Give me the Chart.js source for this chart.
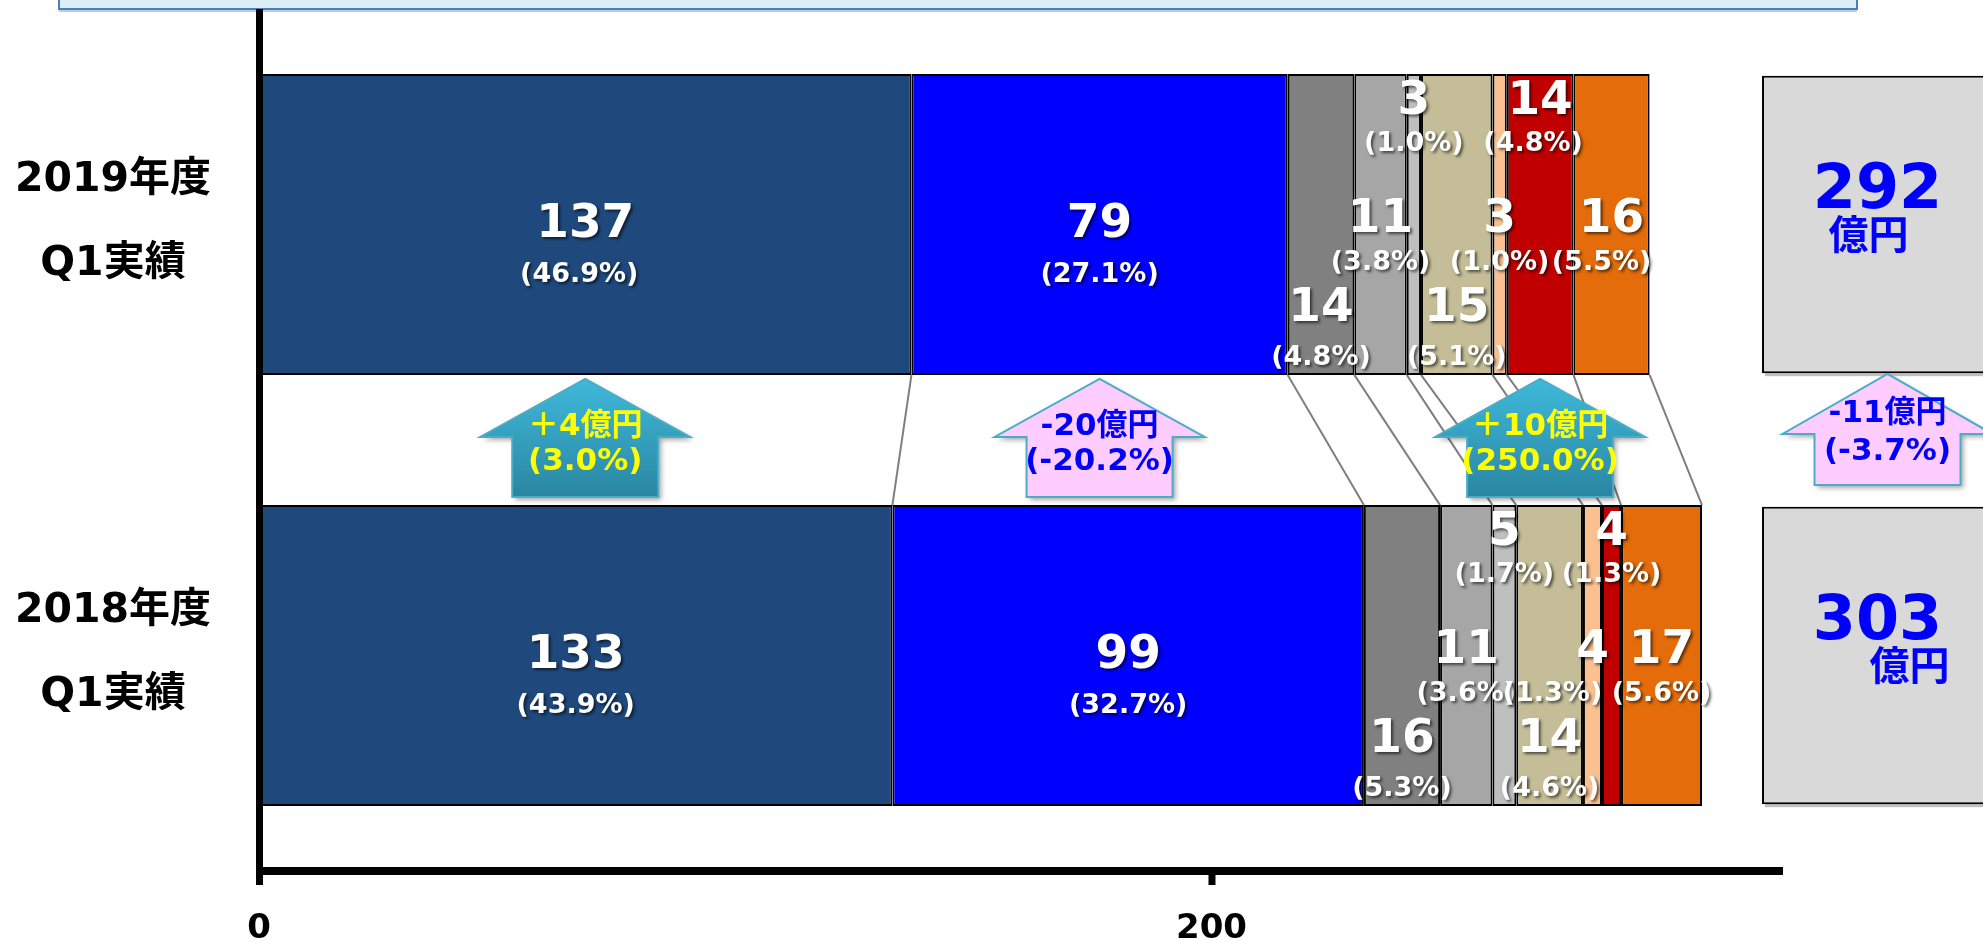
<!DOCTYPE html>
<html>
<head>
<meta charset="utf-8">
<script src="https://cdn.jsdelivr.net/npm/chart.js@4.4.1/dist/chart.umd.min.js"></script>
<style>
    html, body { margin: 0; padding: 0; background: #fff; }
    #wrap { width: 1983px; height: 940px; position: relative; }
</style>
</head>
<body>
<div id="wrap"><canvas id="chart"></canvas></div>
<script>
// data (億円)
const years = [['2019年度', 'Q1実績'], ['2018年度', 'Q1実績']]
const values2019 = [137, 79, 14, 11, 3, 15, 3, 14, 16]
const values2018 = [133, 99, 16, 11, 5, 14, 4, 4, 17]
const totals = [292, 303]
const changeLabels = ['＋4億円', '-20億円', '＋10億円', '-11億円']
const changePcts = ['(3.0%)', '(-20.2%)', '(250.0%)', '(-3.7%)']
const xTicks = [0, 200]

const segColors = ['#1f497d', '#0000ff', '#808080', '#a6a6a6', '#bfbfbf', '#c4bd97', '#fac090', '#c00000', '#e46c0a']
const FONT = '"DejaVu Sans", "Noto Sans CJK JP", sans-serif'
const X_MAX = 362
const AXIS_END = 320
const BOX_FROM = 315.6

// where each segment puts its value / percentage (px from bar centre)
const tiers = { big: [0, 50], top: [-123, -81], mid: [-5, 38], bot: [84, 133] }
const segTier = ['big', 'big', 'bot', 'mid', 'top', 'bot', 'mid', 'top', 'mid']
const pctShift = { '1-6': -40, '0-7': -7, '0-8': -10, '0-0': -6 }
// arrows: which segment they sit under (-1 = total box)
const arrowSeg = [0, 1, 7, -1]

const ranges = vals => {
    let s = 0
    return vals.map(v => [s, s += v])
}
const r19 = ranges(values2019)
const r18 = ranges(values2018)

const datasets = segColors.map((c, i) => ({
    data: [r19[i], r18[i]],
    backgroundColor: c,
    borderColor: '#000',
    borderWidth: 2,
    borderSkipped: false,
    grouped: false,
    barPercentage: 0.698,
    categoryPercentage: 1
}))
datasets.push({
    data: totals.map(() => [BOX_FROM, X_MAX + 5]),
    backgroundColor: '#d9d9d9',
    borderColor: '#000',
    borderWidth: 2,
    borderSkipped: 'right',
    grouped: false,
    barPercentage: 0.69,
    categoryPercentage: 1
})

const shadowText = (ctx, text, x, y, font, color, shadow) => {
    ctx.save()
    ctx.font = font
    ctx.fillStyle = color
    ctx.textAlign = 'center'
    ctx.textBaseline = 'middle'
    if (shadow) {
        ctx.shadowColor = 'rgba(0,0,0,0.6)'
        ctx.shadowOffsetX = 2
        ctx.shadowOffsetY = 2
        ctx.shadowBlur = 3
    }
    ctx.fillText(text, x, y)
    ctx.restore()
}

const drawArrow = (ctx, cx, tip, wing, bot, head, shaft, fill, stroke) => {
    ctx.save()
    ctx.beginPath()
    ctx.moveTo(cx, tip)
    ctx.lineTo(cx + head, wing)
    ctx.lineTo(cx + shaft, wing)
    ctx.lineTo(cx + shaft, bot)
    ctx.lineTo(cx - shaft, bot)
    ctx.lineTo(cx - shaft, wing)
    ctx.lineTo(cx - head, wing)
    ctx.closePath()
    ctx.shadowColor = 'rgba(0,0,0,0.35)'
    ctx.shadowOffsetX = 3
    ctx.shadowOffsetY = 3
    ctx.shadowBlur = 5
    ctx.fillStyle = fill
    ctx.fill()
    ctx.shadowColor = 'transparent'
    ctx.strokeStyle = stroke
    ctx.lineWidth = 2
    ctx.stroke()
    ctx.restore()
}

const decor = {
    id: 'decor',
    beforeDatasetsDraw(chart) {
        const ctx = chart.ctx
        const xs = chart.scales.x
        // cut-off title box at the very top
        ctx.save()
        ctx.fillStyle = '#daeef3'
        ctx.fillRect(59, -4, 1798, 13)
        ctx.strokeStyle = '#4a7ebb'
        ctx.lineWidth = 2
        ctx.strokeRect(59, -4, 1798, 13)
        ctx.strokeStyle = '#b9cde5'
        ctx.beginPath()
        ctx.moveTo(59, 11)
        ctx.lineTo(1857, 11)
        ctx.stroke()
        ctx.restore()

        // series lines between the two bars
        const m0 = chart.getDatasetMeta(0)
        const top = m0.data[0].y + m0.data[0].height / 2
        const bottom = m0.data[1].y - m0.data[1].height / 2
        ctx.save()
        ctx.strokeStyle = '#7f7f7f'
        ctx.lineWidth = 2
        r19.forEach((r, i) => {
            ctx.beginPath()
            ctx.moveTo(xs.getPixelForValue(r[1]), top)
            ctx.lineTo(xs.getPixelForValue(r18[i][1]), bottom)
            ctx.stroke()
        })
        ctx.restore()

        // soft shadow under the total boxes
        const tm = chart.getDatasetMeta(segColors.length)
        ctx.save()
        ctx.fillStyle = 'rgba(0,0,0,0.25)'
        tm.data.forEach(el => {
            ctx.fillRect(el.base + 3, el.y - el.height / 2 + 3, chart.width, el.height)
        })
        ctx.restore()
    },
    afterDatasetsDraw(chart) {
        const ctx = chart.ctx
        const xs = chart.scales.x
        const area = chart.chartArea
        const x0 = xs.getPixelForValue(0)

        // axes
        ctx.save()
        ctx.fillStyle = '#000'
        ctx.fillRect(x0 - 3, area.top, 7, area.bottom + 14 - area.top)
        ctx.fillRect(x0 - 3, area.bottom - 4, xs.getPixelForValue(AXIS_END) - x0 + 3, 8)
        xTicks.forEach(t => ctx.fillRect(xs.getPixelForValue(t) - 3, area.bottom, 7, 14))
        ctx.restore()

        // segment labels
        ;[values2019, values2018].forEach((vals, yi) => {
            const total = vals.reduce((a, b) => a + b, 0)
            vals.forEach((v, si) => {
                const el = chart.getDatasetMeta(si).data[yi]
                const cx = (el.x + el.base) / 2
                const [dv, dp] = tiers[segTier[si]]
                const pct = '(' + (v / total * 100).toFixed(1) + '%)'
                shadowText(ctx, String(v), cx, el.y + dv, 'bold 47px ' + FONT, '#fff', true)
                shadowText(ctx, pct, cx + (pctShift[yi + '-' + si] || 0), el.y + dp, 'bold 27px ' + FONT, '#fff', true)
            })
        })

        // totals
        const tm = chart.getDatasetMeta(segColors.length)
        const unitShift = [-4, 37]
        totals.forEach((t, yi) => {
            const el = tm.data[yi]
            const cx = (el.base + Math.min(el.x, area.right)) / 2
            shadowText(ctx, String(t), cx + 5, el.y - 33, 'bold 62px ' + FONT, '#0000ff', false)
            shadowText(ctx, '億円', cx + unitShift[yi], el.y + 14, 'bold 40px ' + FONT, '#0000ff', false)
        })

        // change arrows
        const m0 = chart.getDatasetMeta(0).data[0]
        const gap = m0.y + m0.height / 2
        arrowSeg.forEach((si, i) => {
            let cx, tip, wing, bot, l1, l2
            if (si >= 0) {
                const el = chart.getDatasetMeta(si).data[0]
                cx = (el.x + el.base) / 2
                tip = gap + 4; wing = gap + 62; bot = gap + 122
                l1 = gap + 52; l2 = gap + 87
            } else {
                const el = tm.data[0]
                cx = (el.base + Math.min(el.x, area.right)) / 2 + 15
                tip = gap - 1; wing = gap + 59; bot = gap + 110
                l1 = gap + 39; l2 = gap + 77
            }
            const up = changeLabels[i].startsWith('＋')
            let fill = '#ffccff'
            if (up) {
                fill = ctx.createLinearGradient(0, tip, 0, bot)
                fill.addColorStop(0, '#3fb9da')
                fill.addColorStop(1, '#2a86a2')
            }
            drawArrow(ctx, cx, tip, wing, bot, 105, 73, fill, '#4bacc6')
            const col = up ? '#ffff00' : '#0000ff'
            shadowText(ctx, changeLabels[i], cx, l1, 'bold 31px ' + FONT, col, false)
            shadowText(ctx, changePcts[i], cx, l2, 'bold 31px ' + FONT, col, false)
        })
    }
}

new Chart(document.getElementById('chart'), {
    type: 'bar',
    data: { labels: years, datasets: datasets },
    options: {
        indexAxis: 'y',
        responsive: true,
        maintainAspectRatio: false,
        animation: false,
        devicePixelRatio: 1,
        layout: { padding: { top: 9, left: 0, right: 0, bottom: 0 } },
        plugins: { legend: { display: false }, tooltip: { enabled: false } },
        scales: {
            x: {
                type: 'linear',
                min: 0,
                max: X_MAX,
                grid: { display: false, drawTicks: false },
                border: { display: false },
                afterBuildTicks: scale => { scale.ticks = xTicks.map(v => ({ value: v })) },
                afterFit: scale => {
                    scale.height = 69
                    scale.paddingLeft = 0
                    scale.paddingRight = 0
                },
                ticks: {
                    color: '#000',
                    padding: 38,
                    font: { family: FONT, weight: 'bold', size: 34 }
                }
            },
            y: {
                grid: { display: false, drawTicks: false },
                border: { display: false },
                afterFit: scale => {
                    scale.width = 259
                    scale.paddingTop = 0
                    scale.paddingBottom = 0
                },
                ticks: {
                    color: '#000',
                    padding: 48,
                    crossAlign: 'center',
                    labelOffset: -2,
                    font: { family: FONT, weight: 'bold', size: 41, lineHeight: 2.05 }
                }
            }
        }
    },
    plugins: [decor]
})
</script>
</body>
</html>
